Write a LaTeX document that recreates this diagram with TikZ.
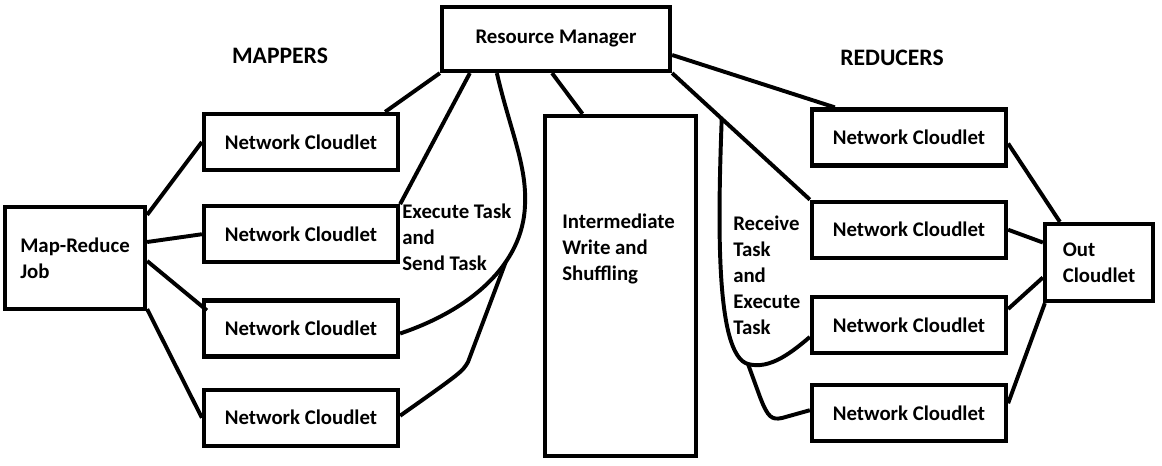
\documentclass[tikz,border=0pt]{standalone}
\usepackage{fontspec}
\setmainfont{Carlito}
\usetikzlibrary{positioning, calc}

\begin{document}
\begin{tikzpicture}[
    x=0.025cm, y=-0.025cm,
    every node/.style={font=\fontsize{14.8pt}{18.5pt}\selectfont\bfseries},
    block/.style={draw, rectangle, line width=3pt, inner sep=0pt, align=left},
    cloudlet/.style={block, minimum width=4.85cm, minimum height=1.4cm},
    lbl/.style={inner sep=0pt, align=left, anchor=north west},
    head/.style={font=\fontsize{16.8pt}{20pt}\selectfont\bfseries},
    conn/.style={line width=2.8pt, line join=round}
]
    \useasboundingbox (0,0) rectangle (1162,466);

    % manager, job, shuffle stage, output
    \node[block, minimum width=5.7cm, minimum height=1.6cm] (rm) at (556,39) {Resource Manager};
    \node[block, minimum width=3.5cm, minimum height=2.55cm] (mrj) at (75,258) {Map-Reduce\\Job};
    \node[block, minimum width=3.775cm, minimum height=8.5cm] (imw) at (620.5,286) {};
    \node[lbl] (imwtext) at (562,214) {Intermediate\\Write and\\Shuffling};
    \node[block, minimum width=2.7cm, minimum height=1.925cm] (out) at (1099,262.5) {Out\\Cloudlet};

    % mappers
    \node[head] (mappers) at (280,56) {MAPPERS};
    \node[cloudlet] (m1) at (301,142) {Network Cloudlet};
    \node[cloudlet] (m2) [below=0.8cm of m1] {Network Cloudlet};
    \node[cloudlet] (m3) [below=0.85cm of m2] {Network Cloudlet};
    \node[cloudlet] (m4) [below=0.725cm of m3] {Network Cloudlet};

    % reducers
    \node[head] (reducers) at (892,58) {REDUCERS};
    \node[cloudlet] (r1) at (909,137.5) {Network Cloudlet};
    \node[cloudlet] (r2) [below=0.8cm of r1] {Network Cloudlet};
    \node[cloudlet] (r3) [below=0.875cm of r2] {Network Cloudlet};
    \node[cloudlet] (r4) [below=0.7cm of r3] {Network Cloudlet};

    \node[lbl] (exec) at (402,204) {Execute Task\\and\\Send Task};
    \node[lbl] (recv) at (733,216) {Receive\\Task\\and\\Execute\\Task};

    % job to mappers
    \draw[conn] ($(mrj.north east)+(0,10)$) -- (m1.west);
    \draw[conn] ($(mrj.east)+(0,-16)$) -- (m2.west);
    \draw[conn] ($(mrj.east)+(0,3)$) -- ($(m3.north west)+(5,12)$);
    \draw[conn] ($(mrj.south east)+(0,-2)$) -- (m4.west);

    % manager to mappers
    \draw[conn] (rm.south west) -- ($(m1.north east)+(-15,0)$);
    \draw[conn] ($(rm.south west)+(30,0)$) -- (m2.north east);
    \draw[conn] ($(rm.south west)+(57,0)$) .. controls (510,130) and (527,165) .. (525,205)
        .. controls (523,265) and (470,310) .. ($(m3.east)+(0,5)$) coordinate[pos=0.35] (splitl);
    \draw[conn] (splitl) -- (468,362) .. controls (462,372) .. ($(m4.east)+(0,-2)$);
    \draw[conn] ($(rm.south)+(-4,0)$) -- ($(imw.north)+(-38,0)$);

    % manager to reducers
    \draw[conn] ($(rm.east)+(0,16)$) -- ($(r1.north west)+(25,0)$);
    \draw[conn] (rm.south east) -- (r2.north west) coordinate[pos=0.36] (splitr);
    \draw[conn] (splitr) .. controls (718,220) and (715,355) .. (748,364) coordinate (splitb)
        .. controls (770,370) and (792,352) .. ($(r3.west)+(0,12)$);
    \draw[conn] (splitb) -- (760,397) .. controls (768,418) and (772,420) .. (782,418)
        -- ($(r4.west)+(0,-3)$);

    % reducers to output
    \draw[conn] ($(r1.east)+(0,6)$) -- ($(out.north west)+(17,0)$);
    \draw[conn] (r2.east) -- ($(out.west)+(0,-20)$);
    \draw[conn] ($(r3.east)+(0,-16)$) -- ($(out.west)+(0,15)$);
    \draw[conn] ($(r4.east)+(0,-10)$) -- ($(out.south west)+(2,0)$);
\end{tikzpicture}
\end{document}
